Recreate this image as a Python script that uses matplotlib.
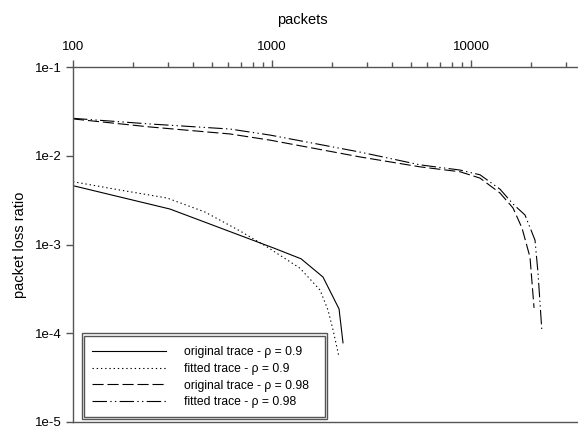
import matplotlib
matplotlib.use("Agg")
import matplotlib.pyplot as plt
from matplotlib.patches import Rectangle
from matplotlib.ticker import FixedLocator, FixedFormatter, LogLocator, NullFormatter

plt.rcParams['font.family'] = ['Liberation Sans', 'DejaVu Sans']

# packet loss ratio vs. buffer size (packets)
orig_09_x = [100, 307, 1023, 1400, 1804, 2172, 2274]
orig_09_y = [4.6e-3, 2.51e-3, 9.1e-4, 6.9e-4, 4.3e-4, 1.88e-4, 7.8e-5]

fit_09_x = [100, 172, 297, 461, 691, 944, 1383, 1743, 1911, 2026, 2172]
fit_09_y = [5.1e-3, 4.11e-3, 3.34e-3, 2.32e-3, 1.42e-3, 9.4e-4, 5.4e-4, 3.07e-4, 1.83e-4, 1.09e-4, 5.4e-5]

orig_098_x = [100, 244, 615, 977, 2768, 5542, 8810, 11100, 13990, 16260, 18050, 19790, 20740]
orig_098_y = [2.6e-2, 2.11e-2, 1.76e-2, 1.5e-2, 9.7e-3, 7.5e-3, 6.6e-3, 5.6e-3, 3.8e-3, 2.58e-3, 1.53e-3, 7.2e-4, 1.93e-4]

fit_098_x = [100, 244, 615, 977, 2768, 5542, 8810, 11100, 13990, 16260, 18680, 20970, 21710, 22730]
fit_098_y = [2.64e-2, 2.28e-2, 2.0e-2, 1.71e-2, 1.1e-2, 7.9e-3, 6.9e-3, 6.1e-3, 4.2e-3, 2.86e-3, 2.15e-3, 1.12e-3, 4.8e-4, 1.03e-4]

x_ticks = [100, 1000, 10000]
x_labels = ['100', '1000', '10000']
y_ticks = [1e-5, 1e-4, 1e-3, 1e-2, 1e-1]
y_labels = ['1e-5', '1e-4', '1e-3', '1e-2', '1e-1']

W, H = 578, 429
fig = plt.figure(figsize=(W / 100, H / 100), dpi=100)
ax_l, ax_t, ax_b = 73, 67, 422
ax = fig.add_axes([ax_l / W, 1 - ax_b / H, 1 - ax_l / W, (ax_b - ax_t) / H])

lw = 0.8
l1, = ax.plot(orig_09_x, orig_09_y, color='black', lw=lw, label='original trace - \u03c1 = 0.9')
l2, = ax.plot(fit_09_x, fit_09_y, color='black', lw=lw, linestyle=(0, (1.2, 2.6)),
              label='fitted trace - \u03c1 = 0.9')
l3, = ax.plot(orig_098_x, orig_098_y, color='black', lw=lw, linestyle=(0, (10, 3.5)),
              label='original trace - \u03c1 = 0.98')
l4, = ax.plot(fit_098_x, fit_098_y, color='black', lw=lw, linestyle=(0, (13, 3, 1.2, 3, 1.2, 3)),
              label='fitted trace - \u03c1 = 0.98')

ax.set_xscale('log')
ax.set_yscale('log')
ax.set_xlim(100, 10 ** (2 + (W - ax_l) / 199))
ax.set_ylim(1e-5, 1e-1)

spine_col = '#555555'
ax.spines['right'].set_visible(False)
for s in ['top', 'bottom', 'left']:
    ax.spines[s].set_color(spine_col)
    ax.spines[s].set_linewidth(1.0)

ax.xaxis.set_ticks_position('top')
ax.xaxis.set_label_position('top')
ax.xaxis.set_major_locator(FixedLocator(x_ticks))
ax.xaxis.set_major_formatter(FixedFormatter(x_labels))
ax.xaxis.set_minor_locator(LogLocator(base=10, subs=range(2, 10)))
ax.xaxis.set_minor_formatter(NullFormatter())
ax.tick_params(axis='x', which='major', direction='out', length=5, width=1, color=spine_col,
               labelsize=9.5, pad=5)
ax.tick_params(axis='x', which='minor', direction='out', length=3.5, width=1, color=spine_col)

ax.yaxis.set_major_locator(FixedLocator(y_ticks))
ax.yaxis.set_major_formatter(FixedFormatter(y_labels))
ax.yaxis.set_minor_locator(FixedLocator([]))
ax.tick_params(axis='y', which='major', direction='out', length=5, width=1, color=spine_col,
               labelsize=9.5, pad=3)

ax.set_xlabel('packets', fontsize=10.5)
ax.xaxis.set_label_coords((302 - ax_l) / (W - ax_l), (ax_b - 24) / (ax_b - ax_t))
ax.set_ylabel('packet loss ratio', fontsize=10.5, labelpad=6)

# double-lined legend box
def px_box(x0, y0, x1, y1):
    return ((x0 - ax_l) / (W - ax_l), (ax_b - y1) / (ax_b - ax_t),
            (x1 - x0) / (W - ax_l), (y1 - y0) / (ax_b - ax_t))

for (x0, y0, x1, y1) in [(81.5, 333, 327, 419), (84, 335.5, 324.5, 416.5)]:
    bx, by, bw, bh = px_box(x0, y0, x1, y1)
    ax.add_patch(Rectangle((bx, by), bw, bh, transform=ax.transAxes, fill=False,
                           edgecolor=spine_col, lw=1.0, zorder=5))

bx, by, bw, bh = px_box(86, 335.5, 324.5, 419)
ax.legend(handles=[l1, l2, l3, l4], loc='center left', bbox_to_anchor=(bx, by + bh / 2),
          frameon=False, fontsize=8.7, handlelength=6.1, handletextpad=1.5,
          labelspacing=0.4, borderaxespad=0, borderpad=0.5)

fig.savefig('out.png', dpi=100)
